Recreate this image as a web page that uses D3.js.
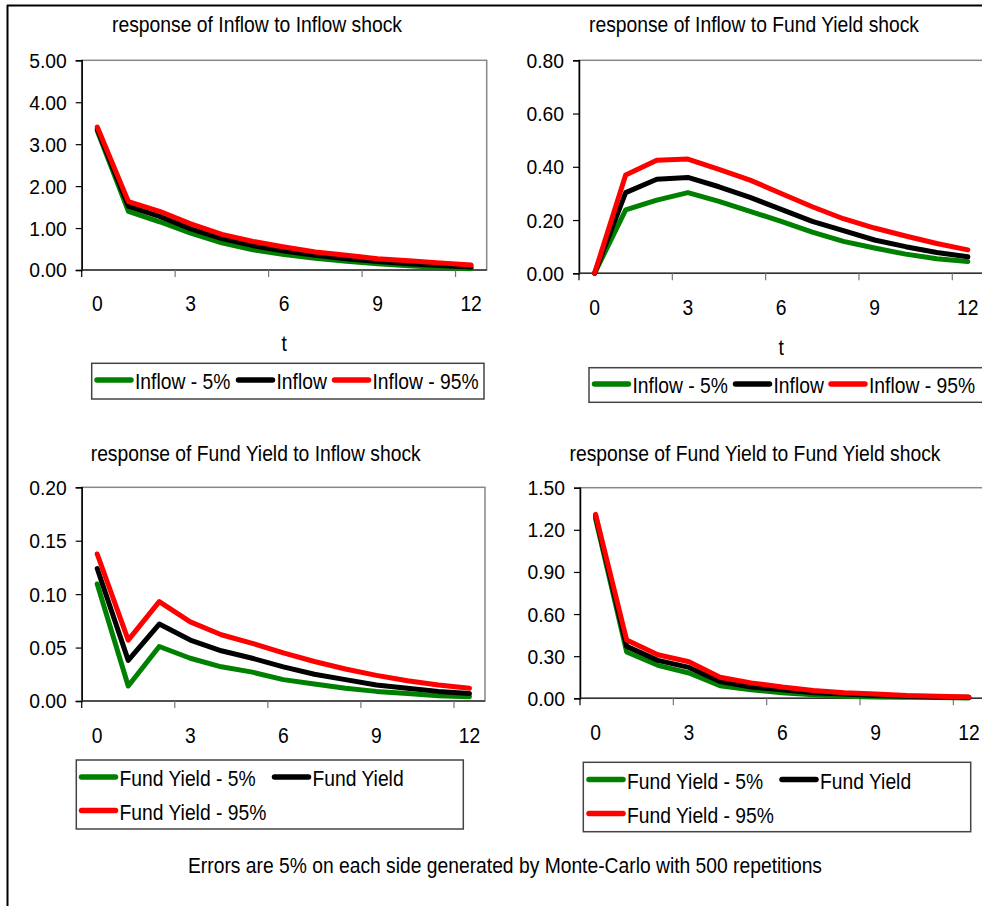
<!DOCTYPE html>
<html>
<head>
<meta charset="utf-8">
<script src="https://cdn.jsdelivr.net/npm/d3@7"></script>
<style>
  body { margin: 0; background: #fff; }
  svg { display: block; font-family: "Liberation Sans", Arial, sans-serif; }
</style>
</head>
<body>
<div id="chart"></div>
<script>
// periods of the impulse response
const periods = [0, 1, 2, 3, 4, 5, 6, 7, 8, 9, 10, 11, 12];
const xTickLabels = [0, 3, 6, 9, 12];

// response of Inflow to Inflow shock
const inflowInflow5 = [3.32, 1.40, 1.15, 0.88, 0.65, 0.48, 0.37, 0.28, 0.21, 0.15, 0.10, 0.06, 0.03];
const inflowInflow = [3.36, 1.52, 1.28, 0.98, 0.75, 0.58, 0.45, 0.35, 0.27, 0.20, 0.15, 0.11, 0.07];
const inflowInflow95 = [3.41, 1.63, 1.40, 1.10, 0.85, 0.68, 0.55, 0.43, 0.35, 0.27, 0.22, 0.17, 0.12];
const yTicks1 = [0, 1, 2, 3, 4, 5];

// response of Inflow to Fund Yield shock
const inflowYield5 = [0, 0.238, 0.275, 0.303, 0.270, 0.233, 0.195, 0.155, 0.120, 0.095, 0.072, 0.055, 0.044];
const inflowYield = [0, 0.303, 0.353, 0.360, 0.325, 0.285, 0.240, 0.195, 0.160, 0.125, 0.100, 0.078, 0.062];
const inflowYield95 = [0, 0.369, 0.425, 0.429, 0.390, 0.350, 0.300, 0.250, 0.205, 0.170, 0.140, 0.112, 0.088];
const yTicks2 = [0, 0.2, 0.4, 0.6, 0.8];

// response of Fund Yield to Inflow shock
const yieldInflow5 = [0.1095, 0.014, 0.051, 0.040, 0.032, 0.027, 0.020, 0.016, 0.012, 0.009, 0.007, 0.005, 0.004];
const yieldInflow = [0.124, 0.038, 0.072, 0.057, 0.047, 0.040, 0.032, 0.025, 0.020, 0.015, 0.012, 0.009, 0.007];
const yieldInflow95 = [0.1376, 0.057, 0.093, 0.074, 0.062, 0.054, 0.045, 0.037, 0.030, 0.024, 0.019, 0.015, 0.012];
const yTicks3 = [0, 0.05, 0.10, 0.15, 0.20];

// response of Fund Yield to Fund Yield shock
const yieldYield5 = [1.28, 0.33, 0.235, 0.18, 0.09, 0.06, 0.04, 0.025, 0.015, 0.010, 0.008, 0.005, 0.003];
const yieldYield = [1.30, 0.37, 0.27, 0.22, 0.12, 0.08, 0.06, 0.04, 0.03, 0.020, 0.015, 0.010, 0.007];
const yieldYield95 = [1.31, 0.415, 0.31, 0.26, 0.15, 0.11, 0.08, 0.055, 0.04, 0.030, 0.020, 0.015, 0.010];
const yTicks4 = [0, 0.3, 0.6, 0.9, 1.2, 1.5];

const seriesColors = ["#008000", "#000000", "#ff0000"];
const footnote = "Errors are 5% on each side generated by Monte-Carlo with 500 repetitions";

const W = 982, H = 906;
const FONT = 19.3;
const STRETCH = 1.15; // the original text is a bit taller than it is wide

const svg = d3.select("#chart").append("svg")
    .attr("width", W)
    .attr("height", H);

svg.append("rect").attr("width", W).attr("height", H).attr("fill", "#fff");

// outer frame (only top and left visible)
svg.append("line").attr("x1", 7).attr("x2", W).attr("y1", 5.5).attr("y2", 5.5)
    .attr("stroke", "#000").attr("stroke-width", 2);
svg.append("line").attr("x1", 7.5).attr("x2", 7.5).attr("y1", 5).attr("y2", H)
    .attr("stroke", "#000").attr("stroke-width", 2);

// text placed at (x, baseline y) and stretched vertically around its baseline
function label(parent, x, y, str, anchor, size) {
    return parent.append("text")
        .attr("transform", `translate(${x},${y}) scale(1,${STRETCH})`)
        .attr("text-anchor", anchor || "start")
        .attr("font-size", size || FONT)
        .text(str);
}

function drawPanel(o) {
    const g = svg.append("g");

    const x = d3.scaleBand().domain(periods).range([o.left, o.right]).padding(0);
    const y = d3.scaleLinear().domain([0, d3.max(o.yTicks)]).range([o.bottom, o.top]);
    const cx = d => x(d) + x.bandwidth() / 2;

    // plot area border (grey)
    g.append("rect")
        .attr("x", o.left).attr("y", o.top)
        .attr("width", o.right - o.left).attr("height", o.bottom - o.top)
        .attr("fill", "none").attr("stroke", "#888").attr("stroke-width", 1.5);

    // y axis
    const yAxis = g.append("g")
        .attr("transform", `translate(${o.left},0)`)
        .call(d3.axisLeft(y).tickValues(o.yTicks).tickFormat(d3.format(".2f")).tickSize(6).tickPadding(9));
    yAxis.select(".domain").attr("stroke", "#000").attr("stroke-width", 1.5);
    yAxis.selectAll(".tick line").attr("stroke", "#000").attr("stroke-width", 1.2);
    yAxis.selectAll(".tick text")
        .attr("font-size", FONT).attr("font-family", "Liberation Sans, Arial, sans-serif")
        .attr("fill", "#000").attr("dy", "0.36em");

    // x axis line
    g.append("line")
        .attr("x1", o.left).attr("x2", o.right)
        .attr("y1", y(0)).attr("y2", y(0))
        .attr("stroke", "#333").attr("stroke-width", 1.5);

    // x tick marks at category boundaries
    g.selectAll(".xtick")
        .data(xTickLabels)
        .join("line")
        .attr("x1", d => x(d)).attr("x2", d => x(d))
        .attr("y1", y(0)).attr("y2", y(0) + 7)
        .attr("stroke", d => d === 0 ? "#000" : "#777")
        .attr("stroke-width", 1.2);

    // x tick labels centred on categories
    xTickLabels.forEach(d => label(g, cx(d), o.xLabelY, d, "middle"));

    if (o.axisTitleY) {
        label(g, (o.left + o.right) / 2, o.axisTitleY, "t", "middle");
    }

    // title
    label(g, o.titleX, o.titleY, o.title, "middle")
        .attr("textLength", o.titleW)
        .attr("lengthAdjust", "spacingAndGlyphs");

    // lines
    const line = d3.line()
        .x((d, i) => cx(periods[i]))
        .y(d => y(d));

    o.series.forEach((s, i) => {
        g.append("path")
            .datum(s)
            .attr("d", line)
            .attr("fill", "none")
            .attr("stroke", seriesColors[i])
            .attr("stroke-width", 5)
            .attr("stroke-linejoin", "round")
            .attr("stroke-linecap", "round");
    });

    // legend
    const lg = o.legend;
    g.append("rect")
        .attr("x", lg.x).attr("y", lg.y)
        .attr("width", lg.w).attr("height", lg.h)
        .attr("fill", "#fff").attr("stroke", "#444").attr("stroke-width", 1.5);

    lg.items.forEach((it, i) => {
        g.append("line")
            .attr("x1", it.x).attr("x2", it.x + 34)
            .attr("y1", it.y).attr("y2", it.y)
            .attr("stroke", seriesColors[i])
            .attr("stroke-width", 5.5)
            .attr("stroke-linecap", "round");
        label(g, it.x + 38, it.y + 9, o.names[i]);
    });
}

drawPanel({
    left: 81.7, right: 486.7, top: 60.3, bottom: 270,
    yTicks: yTicks1,
    series: [inflowInflow5, inflowInflow, inflowInflow95],
    names: ["Inflow - 5%", "Inflow", "Inflow - 95%"],
    title: "response of Inflow to Inflow shock", titleX: 257, titleY: 32, titleW: 290,
    xLabelY: 311, axisTitleY: 351,
    legend: {
        x: 91.7, y: 363.3, w: 392.3, h: 35.7,
        items: [{ x: 97, y: 380 }, { x: 238.5, y: 380 }, { x: 334.5, y: 380 }]
    }
});

drawPanel({
    left: 579, right: 983.4, top: 60.3, bottom: 273.3,
    yTicks: yTicks2,
    series: [inflowYield5, inflowYield, inflowYield95],
    names: ["Inflow - 5%", "Inflow", "Inflow - 95%"],
    title: "response of Inflow to Fund Yield shock", titleX: 754, titleY: 32, titleW: 330,
    xLabelY: 315, axisTitleY: 355,
    legend: {
        x: 589, y: 367.7, w: 396, h: 34.6,
        items: [{ x: 594.5, y: 384 }, { x: 735.5, y: 384 }, { x: 831, y: 384 }]
    }
});

drawPanel({
    left: 81.7, right: 485, top: 487.3, bottom: 701,
    yTicks: yTicks3,
    series: [yieldInflow5, yieldInflow, yieldInflow95],
    names: ["Fund Yield - 5%", "Fund Yield", "Fund Yield - 95%"],
    title: "response of Fund Yield to Inflow shock", titleX: 255.7, titleY: 460.7, titleW: 330,
    xLabelY: 743,
    legend: {
        x: 76.3, y: 760, w: 387, h: 69,
        items: [{ x: 81.5, y: 777 }, { x: 274.5, y: 777 }, { x: 81.5, y: 810.5 }]
    }
});

drawPanel({
    left: 580, right: 984.5, top: 487.7, bottom: 698.3,
    yTicks: yTicks4,
    series: [yieldYield5, yieldYield, yieldYield95],
    names: ["Fund Yield - 5%", "Fund Yield", "Fund Yield - 95%"],
    title: "response of Fund Yield to Fund Yield shock", titleX: 755, titleY: 461, titleW: 371,
    xLabelY: 740,
    legend: {
        x: 583.3, y: 762.3, w: 387.4, h: 69.4,
        items: [{ x: 589, y: 779.5 }, { x: 782, y: 779.5 }, { x: 589, y: 813.5 }]
    }
});

label(svg, 505, 873, footnote, "middle", 18.5)
    .attr("textLength", 634)
    .attr("lengthAdjust", "spacingAndGlyphs");
</script>
</body>
</html>
